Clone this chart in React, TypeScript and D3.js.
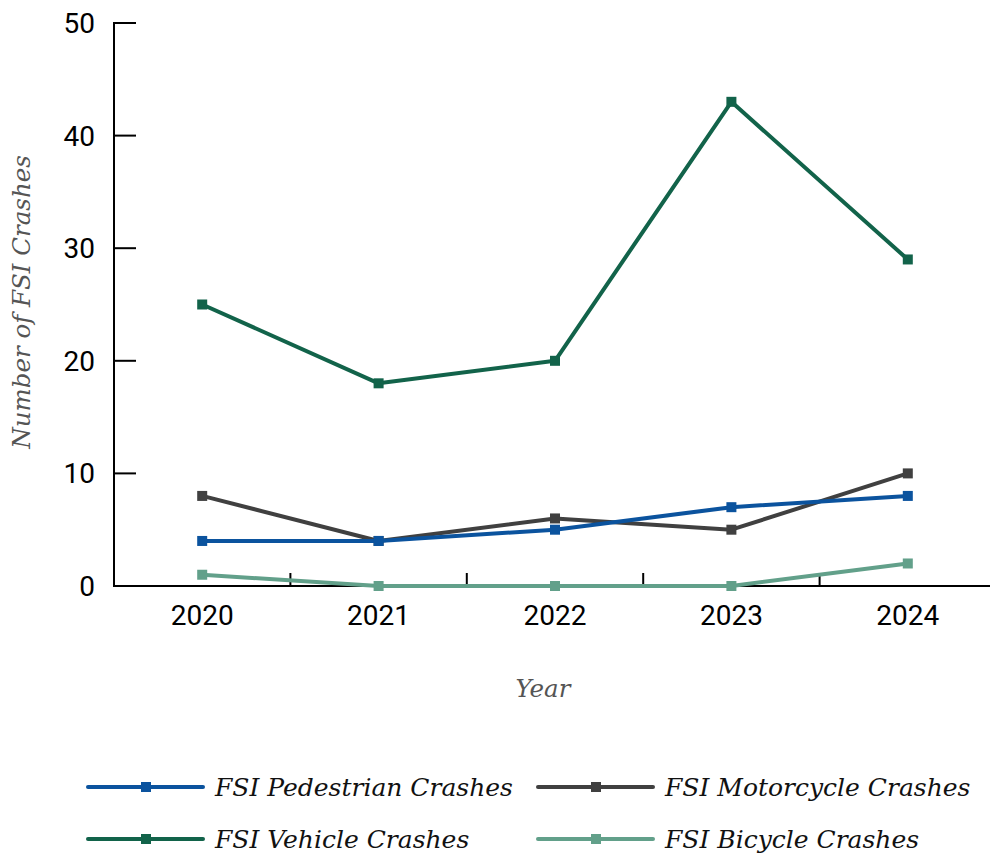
import React from "react";
import * as d3 from "d3";

const years = ["2020", "2021", "2022", "2023", "2024"];
const pedestrian = [4, 4, 5, 7, 8];
const motorcycle = [8, 4, 6, 5, 10];
const vehicle = [25, 18, 20, 43, 29];
const bicycle = [1, 0, 0, 0, 2];
const yTicks = [0, 10, 20, 30, 40, 50];

const series = [
  { name: "FSI Vehicle Crashes", values: vehicle, color: "#12634a" },
  { name: "FSI Motorcycle Crashes", values: motorcycle, color: "#404040" },
  { name: "FSI Pedestrian Crashes", values: pedestrian, color: "#0b539e" },
  { name: "FSI Bicycle Crashes", values: bicycle, color: "#62a08a" },
];

const legendOrder = [
  { name: "FSI Pedestrian Crashes", color: "#0b539e", col: 0, row: 0 },
  { name: "FSI Motorcycle Crashes", color: "#404040", col: 1, row: 0 },
  { name: "FSI Vehicle Crashes", color: "#12634a", col: 0, row: 1 },
  { name: "FSI Bicycle Crashes", color: "#62a08a", col: 1, row: 1 },
];

export default function App() {
  const W = 990, H = 857;
  const x = d3.scaleBand<string>().domain(years).range([114, 996]);
  const y = d3.scaleLinear().domain([0, 50]).range([586, 23]);
  const cx = (i: number) => (x(years[i]) as number) + x.bandwidth() / 2;
  const line = d3
    .line<number>()
    .x((_, i) => cx(i))
    .y((d) => y(d));
  const tickFont = "Roboto, 'Noto Sans', sans-serif";
  const serif = "'DejaVu Serif', serif";
  return (
    <svg width={W} height={H} style={{ position: "absolute", left: 0, top: 0, background: "#fff" }}>
      {/* axes */}
      <line x1={114} y1={22} x2={114} y2={587} stroke="#000" strokeWidth={2} />
      <line x1={113} y1={586} x2={W} y2={586} stroke="#000" strokeWidth={2} />
      {yTicks.map((t) => (
        <g key={t}>
          <line x1={114} x2={136} y1={y(t)} y2={y(t)} stroke="#000" strokeWidth={2} />
          <text x={95} y={y(t)} dy="0.36em" textAnchor="end" fontFamily={tickFont} fontSize={28} fill="#000">
            {t}
          </text>
        </g>
      ))}
      {years.slice(1).map((yr) => (
        <line key={yr} x1={x(yr)} x2={x(yr)} y1={586} y2={573} stroke="#000" strokeWidth={2} />
      ))}
      {years.map((yr, i) => (
        <text key={yr} x={cx(i)} y={625} textAnchor="middle" fontFamily={tickFont} fontSize={28} fill="#000">
          {yr}
        </text>
      ))}
      <text
        transform={`translate(30,${302}) rotate(-90)`}
        textAnchor="middle"
        fontFamily={serif}
        fontStyle="italic"
        fontSize={24.5}
        fill="#555"
      >
        Number of FSI Crashes
      </text>
      <text x={543} y={697} textAnchor="middle" fontFamily={serif} fontStyle="italic" fontSize={24.5} fill="#555">
        Year
      </text>
      {/* series */}
      {series.map((s) => (
        <g key={s.name}>
          <path d={line(s.values) || ""} fill="none" stroke={s.color} strokeWidth={4} strokeLinejoin="round" />
          {s.values.map((v, i) => (
            <rect key={i} x={cx(i) - 5} y={y(v) - 5} width={10} height={10} fill={s.color} />
          ))}
        </g>
      ))}
      {/* legend */}
      {legendOrder.map((l) => {
        const lx = 88 + l.col * 450;
        const ly = 787 + l.row * 52;
        return (
          <g key={l.name}>
            <line x1={lx} x2={lx + 115} y1={ly} y2={ly} stroke={l.color} strokeWidth={4} strokeLinecap="round" />
            <rect x={lx + 53} y={ly - 5} width={10} height={10} fill={l.color} />
            <text x={lx + 127} y={ly} dy="0.35em" fontFamily={serif} fontStyle="italic" fontSize={25} fill="#111">
              {l.name}
            </text>
          </g>
        );
      })}
    </svg>
  );
}
